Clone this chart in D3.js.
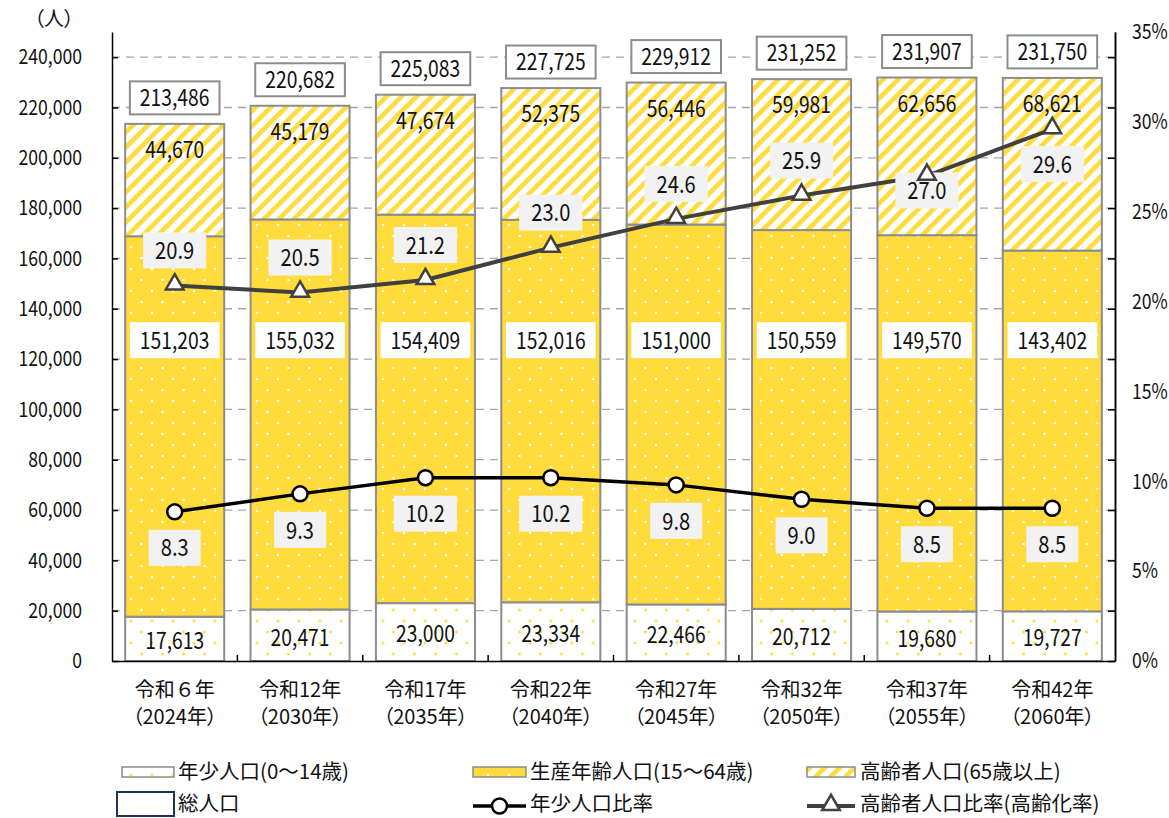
<!DOCTYPE html>
<html>
<head>
<meta charset="utf-8">
<script src="https://cdn.jsdelivr.net/npm/d3@7"></script>
<style>
  body { margin: 0; background: #fff; }
  svg { display: block; }
  text { font-family: "Noto Sans CJK JP", "Noto Sans", sans-serif; fill: #111; }
</style>
</head>
<body>
<svg id="chart" width="1169" height="818"></svg>
<script>
// ---- data ----
const eraLabels  = ["令和６年", "令和12年", "令和17年", "令和22年", "令和27年", "令和32年", "令和37年", "令和42年"];
const yearLabels = ["（2024年）", "（2030年）", "（2035年）", "（2040年）", "（2045年）", "（2050年）", "（2055年）", "（2060年）"];
const youngPop   = [17613, 20471, 23000, 23334, 22466, 20712, 19680, 19727];
const workingPop = [151203, 155032, 154409, 152016, 151000, 150559, 149570, 143402];
const elderlyPop = [44670, 45179, 47674, 52375, 56446, 59981, 62656, 68621];
const totalPop   = [213486, 220682, 225083, 227725, 229912, 231252, 231907, 231750];
const youngRatio   = [8.3, 9.3, 10.2, 10.2, 9.8, 9.0, 8.5, 8.5];
const elderlyRatio = [20.9, 20.5, 21.2, 23.0, 24.6, 25.9, 27.0, 29.6];
const leftTicks  = [0, 20000, 40000, 60000, 80000, 100000, 120000, 140000, 160000, 180000, 200000, 220000, 240000];
const rightTicks = [0, 5, 10, 15, 20, 25, 30, 35];

// label placement for the ageing-rate series: -1 above the marker, +1 below
const elderlyLabelSide = [-1, -1, -1, -1, -1, -1, 0.42, 1];

// ---- layout ----
const plotL = 112, plotR = 1115, plotT = 32, plotB = 661;
const YELLOW = "#ffdb3b";
const EDGE = "#8c8c8c";
const SX = 0.84;               // horizontal squeeze for numeric labels
const workingLabelLevel = 127500; // value level where working-age labels sit

const svg = d3.select("#chart");

const x = d3.scaleBand().domain(d3.range(eraLabels.length)).range([plotL, plotR])
  .paddingInner(0.21).paddingOuter(0.105);
const yL = d3.scaleLinear().domain([0, 250000]).range([plotB, plotT]);
const yR = d3.scaleLinear().domain([0, 35]).range([plotB, plotT]);
const cx = i => x(i) + x.bandwidth() / 2;

// ---- fill patterns ----
const defs = svg.append("defs");
const pYoung = defs.append("pattern").attr("id", "pYoung").attr("patternUnits", "userSpaceOnUse")
  .attr("width", 21).attr("height", 22);
pYoung.append("rect").attr("width", 21).attr("height", 22).attr("fill", "#fff");
pYoung.append("circle").attr("cx", 5).attr("cy", 5).attr("r", 1.6).attr("fill", "#ffe04d");
pYoung.append("circle").attr("cx", 15.5).attr("cy", 16).attr("r", 1.6).attr("fill", "#ffe04d");

const pWork = defs.append("pattern").attr("id", "pWork").attr("patternUnits", "userSpaceOnUse")
  .attr("width", 21).attr("height", 22);
pWork.append("rect").attr("width", 21).attr("height", 22).attr("fill", YELLOW);
pWork.append("circle").attr("cx", 5).attr("cy", 5).attr("r", 1.3).attr("fill", "#fff");
pWork.append("circle").attr("cx", 15.5).attr("cy", 16).attr("r", 1.3).attr("fill", "#fff");

const pOld = defs.append("pattern").attr("id", "pOld").attr("patternUnits", "userSpaceOnUse")
  .attr("width", 10.6).attr("height", 10.6).attr("patternTransform", "rotate(45)");
pOld.append("rect").attr("width", 10.6).attr("height", 10.6).attr("fill", "#fff");
pOld.append("rect").attr("width", 4.6).attr("height", 10.6).attr("fill", YELLOW);

// ---- gridlines ----
svg.append("g").selectAll("line").data(leftTicks.slice(1)).join("line")
  .attr("x1", plotL).attr("x2", plotR)
  .attr("y1", d => yL(d)).attr("y2", d => yL(d))
  .attr("stroke", "#a6a6a6").attr("stroke-width", 1.3).attr("stroke-dasharray", "8,6");

// ---- stacked bars ----
const rows = youngPop.map((v, i) => ({ i, young: v, working: workingPop[i], elderly: elderlyPop[i] }));
const stacked = d3.stack().keys(["young", "working", "elderly"])(rows);
const fills = { young: "url(#pYoung)", working: "url(#pWork)", elderly: "url(#pOld)" };

svg.append("g").selectAll("g").data(stacked).join("g")
  .attr("fill", s => fills[s.key])
  .selectAll("rect").data(s => s).join("rect")
  .attr("x", d => x(d.data.i))
  .attr("width", x.bandwidth())
  .attr("y", d => yL(d[1]))
  .attr("height", d => yL(d[0]) - yL(d[1]))
  .attr("stroke", EDGE).attr("stroke-width", 2);

// ---- axes ----
const fmt = d3.format(",");
const gLeft = svg.append("g").attr("transform", `translate(${plotL},0)`)
  .call(d3.axisLeft(yL).tickValues(leftTicks).tickSize(-6).tickSizeOuter(0).tickPadding(30).tickFormat(fmt));
gLeft.selectAll("text").style("font-size", "21px")
  .attr("transform", `scale(${SX},1)`).attr("x", -30 / SX);

const gRight = svg.append("g").attr("transform", `translate(${plotR},0)`)
  .call(d3.axisRight(yR).tickValues(rightTicks).tickSize(0).tickSizeOuter(0).tickPadding(17).tickFormat(d => d + "%"));
gRight.selectAll("text").style("font-size", "21px")
  .attr("transform", `scale(${SX},1)`).attr("x", 17 / SX);
svg.append("g").attr("transform", `translate(${plotR},0)`)
  .call(d3.axisRight(yL).tickValues(leftTicks).tickSize(-7).tickSizeOuter(0).tickFormat(""));

svg.selectAll(".tick line").attr("stroke", "#000").attr("stroke-width", 1.5);
svg.selectAll(".domain").attr("stroke", "#000").attr("stroke-width", 1.5);

const gBottom = svg.append("g").attr("transform", `translate(0,${plotB})`)
  .call(d3.axisBottom(x).tickSize(0).tickSizeOuter(0).tickFormat(""));
gBottom.select(".domain").attr("stroke", "#000").attr("stroke-width", 1.5);
// boundary ticks between categories
gBottom.selectAll(".sep").data(d3.range(1, eraLabels.length)).join("line")
  .attr("class", "sep")
  .attr("x1", i => x(i) - x.step() * x.paddingInner() / 2)
  .attr("x2", i => x(i) - x.step() * x.paddingInner() / 2)
  .attr("y1", 0).attr("y2", -6).attr("stroke", "#000").attr("stroke-width", 1.5);

// category labels (two lines)
const gCat = svg.append("g");
gCat.selectAll(".era").data(eraLabels).join("text").attr("class", "era")
  .attr("x", (d, i) => cx(i)).attr("y", plotB + 36)
  .attr("text-anchor", "middle").style("font-size", "20px").text(d => d);
gCat.selectAll(".yr").data(yearLabels).join("text").attr("class", "yr")
  .attr("x", (d, i) => cx(i)).attr("y", plotB + 63)
  .attr("text-anchor", "middle").style("font-size", "20px")
  .style("font-feature-settings", "'palt'").text(d => d);

svg.append("text").attr("x", 54).attr("y", 26).attr("text-anchor", "middle")
  .style("font-size", "20px").style("font-feature-settings", "'palt'").text("（人）");

// ---- labels ----
function tag(parent, px, py, str, o) {
  const g = parent.append("g").attr("transform", `translate(${px},${py})`);
  const r = o.fill ? g.append("rect") : null;
  const t = g.append("text").attr("text-anchor", "middle").attr("dy", "0.36em")
    .attr("transform", `scale(${SX},1)`).style("font-size", o.size + "px").text(str);
  const w = t.node().getComputedTextLength() * SX;
  if (r) {
    const bw = w + 2 * o.padX;
    r.attr("x", -bw / 2).attr("y", -o.h / 2).attr("width", bw).attr("height", o.h)
      .attr("fill", o.fill).attr("stroke", o.stroke || "none").attr("stroke-width", o.sw || 0);
  }
  return g;
}

const gLab = svg.append("g");
totalPop.forEach((v, i) => tag(gLab, cx(i), yL(v) - 26, fmt(v),
  { size: 23, fill: "#fff", stroke: EDGE, sw: 2, h: 33, padX: 10 }));
elderlyPop.forEach((v, i) => tag(gLab, cx(i), yL(totalPop[i]) + 26, fmt(v), { size: 23 }));
workingPop.forEach((v, i) => tag(gLab, cx(i), yL(workingLabelLevel), fmt(v),
  { size: 23, fill: "#fff", h: 36, padX: 10 }));
youngPop.forEach((v, i) => tag(gLab, cx(i), yL(v / 2) + 2, fmt(v), { size: 23 }));

// ---- ratio lines ----
const line = d3.line().x((d, i) => cx(i)).y(d => yR(d));

const gLines = svg.append("g");
gLines.append("path").datum(elderlyRatio).attr("d", line)
  .attr("fill", "none").attr("stroke", "#404040").attr("stroke-width", 4);
gLines.append("path").datum(youngRatio).attr("d", line)
  .attr("fill", "none").attr("stroke", "#000").attr("stroke-width", 3.5);

const gRatioLab = svg.append("g");
youngRatio.forEach((v, i) => tag(gRatioLab, cx(i), yR(v) + 36, v.toFixed(1),
  { size: 24, fill: "#f2f2f2", h: 36, padX: 12 }));
elderlyRatio.forEach((v, i) => tag(gRatioLab, cx(i), yR(v) + 35 * elderlyLabelSide[i], v.toFixed(1),
  { size: 24, fill: "#f2f2f2", h: 36, padX: 12 }));

const tri = d3.symbol(d3.symbolTriangle, 135);
svg.append("g").selectAll("path").data(elderlyRatio).join("path")
  .attr("d", tri).attr("transform", (d, i) => `translate(${cx(i)},${yR(d) - 1})`)
  .attr("fill", "#fff").attr("stroke", "#404040").attr("stroke-width", 2.5);
svg.append("g").selectAll("circle").data(youngRatio).join("circle")
  .attr("cx", (d, i) => cx(i)).attr("cy", d => yR(d)).attr("r", 7.5)
  .attr("fill", "#fff").attr("stroke", "#000").attr("stroke-width", 2.5);

// ---- legend ----
const legendNames = ["年少人口(0～14歳)", "生産年齢人口(15～64歳)", "高齢者人口(65歳以上)", "総人口", "年少人口比率", "高齢者人口比率(高齢化率)"];
const gLeg = svg.append("g");
const colX = [122, 473, 807];
const swW = [52, 53, 48];
const rowY = [772, 804];
["pYoung", "pWork", "pOld"].forEach((p, k) => {
  gLeg.append("rect").attr("x", colX[k]).attr("y", rowY[0] - 5).attr("width", swW[k]).attr("height", 10)
    .attr("fill", `url(#${p})`).attr("stroke", EDGE).attr("stroke-width", 1.5);
});
gLeg.append("rect").attr("x", 117).attr("y", 792).attr("width", 57).attr("height", 24)
  .attr("fill", "#fff").attr("stroke", "#1f3557").attr("stroke-width", 2);
gLeg.append("line").attr("x1", colX[1]).attr("x2", colX[1] + swW[1]).attr("y1", rowY[1] + 2).attr("y2", rowY[1] + 2)
  .attr("stroke", "#000").attr("stroke-width", 3.5);
gLeg.append("circle").attr("cx", colX[1] + swW[1] / 2).attr("cy", rowY[1] + 2).attr("r", 7.5)
  .attr("fill", "#fff").attr("stroke", "#000").attr("stroke-width", 2.5);
gLeg.append("line").attr("x1", colX[2]).attr("x2", colX[2] + swW[2]).attr("y1", rowY[1] + 2).attr("y2", rowY[1] + 2)
  .attr("stroke", "#404040").attr("stroke-width", 4);
gLeg.append("path").attr("d", tri).attr("transform", `translate(${colX[2] + swW[2] / 2},${rowY[1] + 1})`)
  .attr("fill", "#fff").attr("stroke", "#404040").attr("stroke-width", 2.5);

const textX = [178, 530, 860];
legendNames.forEach((n, k) => {
  gLeg.append("text").attr("x", textX[k % 3]).attr("y", rowY[Math.floor(k / 3)]).attr("dy", "0.36em")
    .style("font-size", "20.5px").text(n);
});
</script>
</body>
</html>
